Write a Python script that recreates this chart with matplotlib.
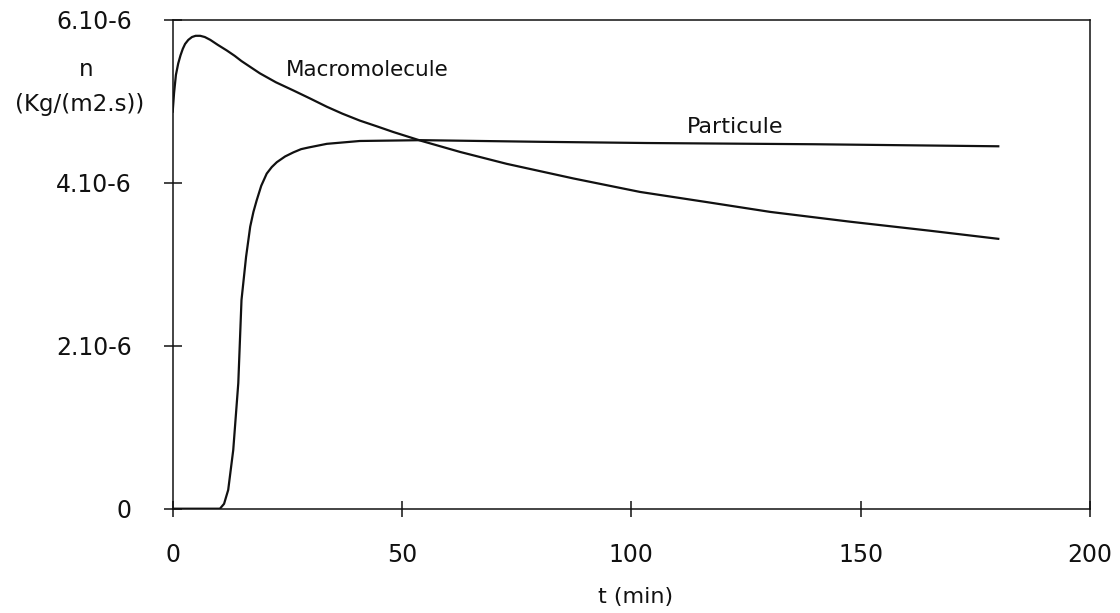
import matplotlib
matplotlib.use("Agg")
import matplotlib.pyplot as plt

# Data (t in min, flux in 1e-6 Kg/(m2.s))
macro_t = [0, 0.3, 0.7, 1.2, 1.7, 2.2, 2.7, 3.4, 4.2, 5.0, 6.0, 7.0, 8.2, 9.8, 11.8, 13.5,
           15.0, 17.0, 19.0, 22.5, 26.3, 30.0, 33.6, 37.0, 40.8, 44.5, 48.1, 54.3,
           62.7, 72.8, 87.4, 101.9, 116.5, 130.3, 147.7, 165.0, 180.0]
macro_v = [4.87, 5.10, 5.32, 5.46, 5.56, 5.64, 5.70, 5.75, 5.785, 5.80, 5.80, 5.785, 5.75,
           5.69, 5.62, 5.555, 5.49, 5.415, 5.34, 5.23, 5.13, 5.03, 4.93, 4.845, 4.76,
           4.69, 4.62, 4.51, 4.375, 4.23, 4.05, 3.885, 3.76, 3.64, 3.52, 3.41, 3.31]

part_t = [0, 10.3, 11.2, 12.1, 13.2, 14.3, 15.0, 16.0, 16.9, 17.6, 18.3, 19.3, 20.5,
          21.6, 22.7, 24.5, 26.3, 28.0, 29.6, 33.6, 40.8, 54.3, 80.0, 103.4, 140.0, 180.0]
part_v = [0, 0, 0.06, 0.23, 0.72, 1.54, 2.56, 3.09, 3.46, 3.64, 3.78, 3.96, 4.11,
          4.19, 4.25, 4.32, 4.37, 4.41, 4.43, 4.475, 4.51, 4.52, 4.50, 4.485, 4.47, 4.445]

scale = 1e-6
x_ticks = [0, 50, 100, 150, 200]
y_ticks = [0, 2e-6, 4e-6, 6e-6]
y_tick_labels = ["0", "2.10-6", "4.10-6", "6.10-6"]

plt.rcParams['font.family'] = ['DejaVu Sans']
ink = "#111111"

fig = plt.figure(figsize=(11.2, 6.13), dpi=100)
ax = fig.add_axes([172.7 / 1120, (613 - 508.7) / 613, (1090 - 172.7) / 1120, (508.7 - 19.5) / 613])

ax.plot(macro_t, [v * scale for v in macro_v], color=ink, lw=1.6)
ax.plot(part_t, [v * scale for v in part_v], color=ink, lw=1.6)

ax.set_xlim(0, 200)
ax.set_ylim(0, 6e-6)
ax.set_xticks(x_ticks)
ax.set_xticklabels([str(v) for v in x_ticks])
ax.set_yticks(y_ticks)
ax.set_yticklabels(y_tick_labels)

for s in ax.spines.values():
    s.set_color(ink)
    s.set_linewidth(1.1)

ax.tick_params(axis='y', direction='inout', length=13, width=1.1, colors=ink,
               labelsize=17, pad=23)
ax.tick_params(axis='x', direction='inout', length=11, width=1.1, colors=ink,
               labelsize=17, pad=19)

ax.text(286 / 1120, 1 - 70 / 613, "Macromolecule", transform=fig.transFigure,
        fontsize=15.5, color=ink, va='center', ha='left')
ax.text(687 / 1120, 1 - 127 / 613, "Particule", transform=fig.transFigure,
        fontsize=16, color=ink, va='center', ha='left')

fig.text(86 / 1120, 1 - 70 / 613, "n", fontsize=16.5, color=ink, ha='center', va='center')
fig.text(80 / 1120, 1 - 104 / 613, "(Kg/(m2.s))", fontsize=16.5, color=ink, ha='center', va='center')
fig.text(636 / 1120, 1 - 597 / 613, "t (min)", fontsize=16, color=ink, ha='center', va='center')

fig.savefig("out.png", dpi=100)
